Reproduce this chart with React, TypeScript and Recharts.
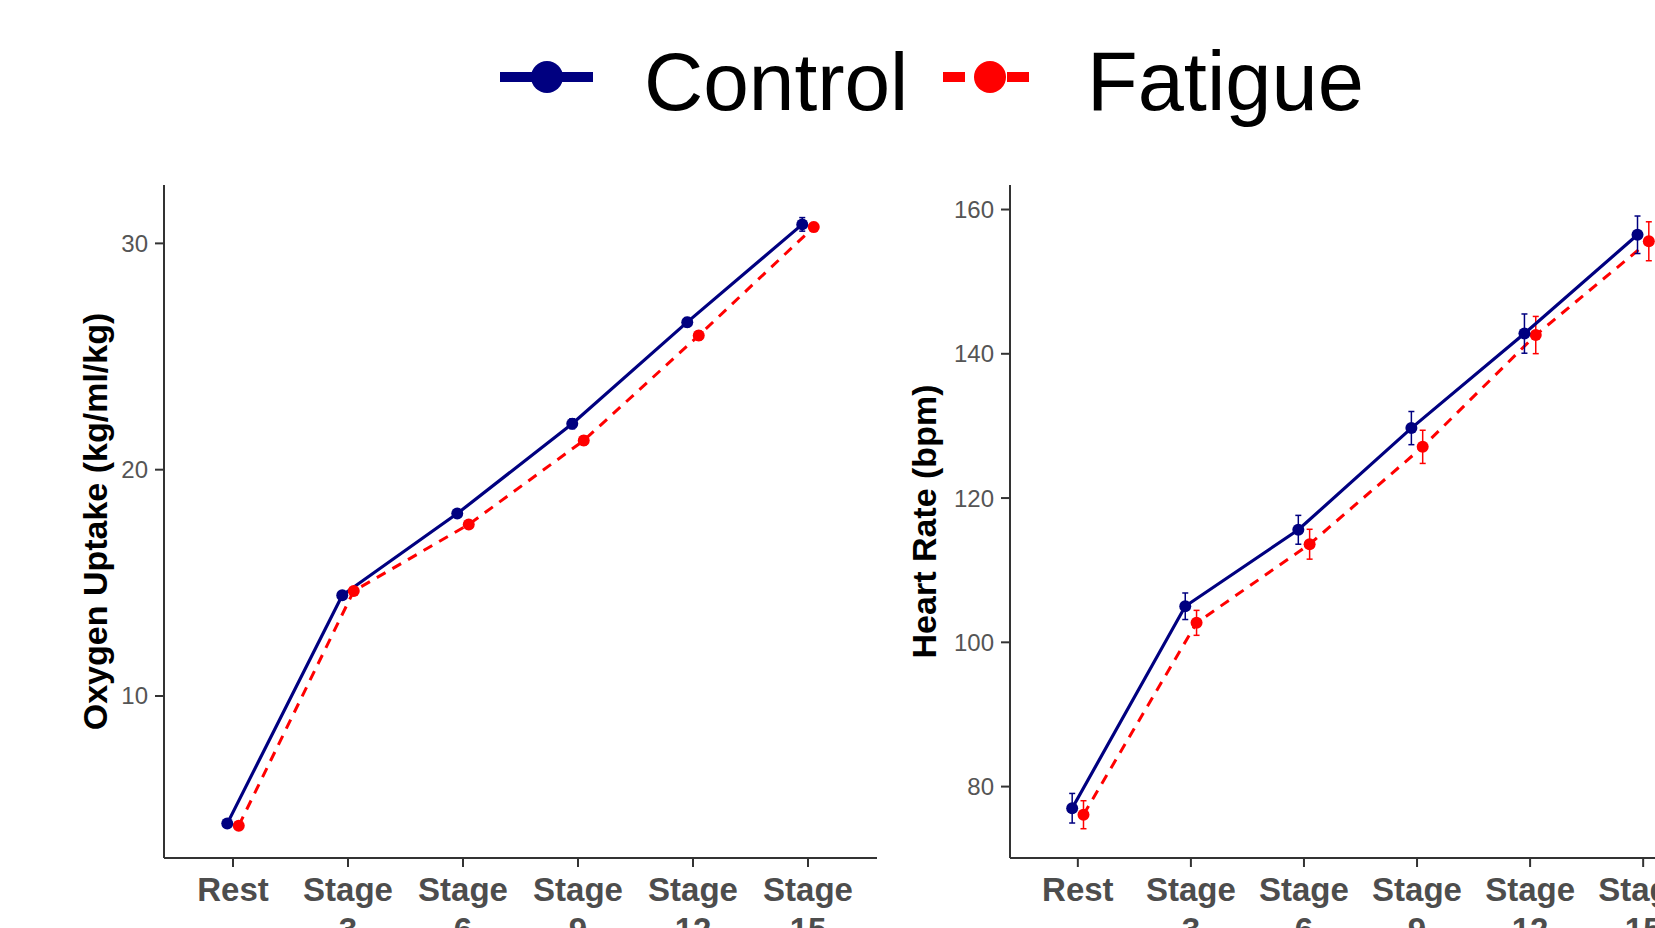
import { ErrorBar, Line, LineChart, XAxis, YAxis } from "recharts";

const stages = ["Rest", "Stage 3", "Stage 6", "Stage 9", "Stage 12", "Stage 15"];

const controlO2 = [4.36, 14.45, 18.06, 22.03, 26.52, 30.84];
const controlO2Se = [0.12, 0.12, 0.15, 0.22, 0.2, 0.3];
const fatigueO2 = [4.27, 14.64, 17.58, 21.29, 25.93, 30.72];
const fatigueO2Se = [0.12, 0.12, 0.15, 0.2, 0.2, 0.2];

const controlHr = [77.0, 105.0, 115.6, 129.7, 142.8, 156.5];
const controlHrSe = [2.05, 1.84, 2.0, 2.3, 2.72, 2.6];
const fatigueHr = [76.1, 102.7, 113.6, 127.1, 142.6, 155.6];
const fatigueHrSe = [1.94, 1.73, 2.07, 2.3, 2.58, 2.7];

const o2Ticks = [10, 20, 30];
const hrTicks = [80, 100, 120, 140, 160];
const stageTicks = [1, 2, 3, 4, 5, 6];

const NAVY = "#000080";
const RED = "#ff0000";
const FONT = "'Liberation Sans', Arial, sans-serif";
const DODGE = 0.05;

const toRows = (means: number[], se: number[], shift: number) =>
  means.map((y, i) => ({ x: i + 1 + shift, y, err: se[i] }));

// two-line stage labels ("Stage" / "3"), second line runs off the bottom like the original
function StageTick({ x, y, payload }: any) {
  const lines = (stages[payload.value - 1] ?? "").split(" ");
  return (
    <text x={x} y={y} textAnchor="middle" fill="#4d4d4d" fontSize={33} fontWeight="bold" fontFamily={FONT}>
      {lines.map((l, i) => (
        <tspan key={i} x={x} dy={i === 0 ? 24 : 40}>{l}</tspan>
      ))}
    </text>
  );
}

const axisStyle = { stroke: "#333", strokeWidth: 2 };

function Panel({ width, yWidth, right, domain, ticks, title, titleX, control, fatigue }: any) {
  return (
    <LineChart width={width} height={928} margin={{ top: 185, right, bottom: 0, left: 0 }}>
      <XAxis
        type="number"
        dataKey="x"
        domain={[0.4, 6.6]}
        ticks={stageTicks}
        interval={0}
        allowDataOverflow
        height={70}
        tickSize={9}
        tickMargin={10}
        axisLine={axisStyle}
        tickLine={axisStyle}
        tick={<StageTick />}
      />
      <YAxis
        type="number"
        domain={domain}
        ticks={ticks}
        allowDataOverflow
        width={yWidth}
        tickSize={9}
        tickMargin={7}
        axisLine={axisStyle}
        tickLine={axisStyle}
        tick={{ fill: "#555", fontSize: 24, fontFamily: FONT }}
        label={(p: any) => {
          const vb = p.viewBox;
          const cx = vb.x + titleX;
          const cy = vb.y + vb.height / 2;
          return (
            <text x={cx} y={cy} transform={`rotate(-90 ${cx} ${cy})`} textAnchor="middle" fontSize={34} fontWeight="bold" fontFamily={FONT} fill="#000">
              {title}
            </text>
          );
        }}
      />
      <Line data={fatigue} dataKey="y" type="linear" stroke={RED} strokeWidth={3} strokeDasharray="10 8" dot={{ r: 6, fill: RED, stroke: "none" }} isAnimationActive={false}>
        <ErrorBar dataKey="err" direction="y" width={3} stroke={RED} strokeWidth={1.5} isAnimationActive={false} />
      </Line>
      <Line data={control} dataKey="y" type="linear" stroke={NAVY} strokeWidth={3.2} dot={{ r: 6, fill: NAVY, stroke: "none" }} isAnimationActive={false}>
        <ErrorBar dataKey="err" direction="y" width={3} stroke={NAVY} strokeWidth={1.5} isAnimationActive={false} />
      </Line>
    </LineChart>
  );
}

function TopLegend() {
  return (
    <svg width={1655} height={160} style={{ position: "absolute", left: 0, top: 0 }}>
      <line x1={500} x2={593} y1={77} y2={77} stroke={NAVY} strokeWidth={10} />
      <circle cx={547} cy={77} r={16} fill={NAVY} />
      <text x={644} y={110} fontSize={82} fontFamily={FONT} fill="#000">Control</text>
      <line x1={943} x2={1036} y1={77} y2={77} stroke={RED} strokeWidth={10} strokeDasharray="22 10" />
      <circle cx={990} cy={77} r={16} fill={RED} />
      <text x={1087} y={110} fontSize={83} fontFamily={FONT} fill="#000">Fatigue</text>
    </svg>
  );
}

export default function App() {
  return (
    <div style={{ position: "absolute", left: 0, top: 0, width: 1655, height: 928, overflow: "hidden", background: "#fff" }}>
      <div style={{ position: "absolute", left: 0, top: 0 }}>
        <Panel
          width={890}
          yWidth={164}
          right={13}
          domain={[2.84, 32.58]}
          ticks={o2Ticks}
          title="Oxygen Uptake (kg/ml/kg)"
          titleX={107}
          control={toRows(controlO2, controlO2Se, -DODGE)}
          fatigue={toRows(fatigueO2, fatigueO2Se, DODGE)}
        />
      </div>
      <div style={{ position: "absolute", left: 890, top: 0 }}>
        <Panel
          width={850}
          yWidth={120}
          right={29}
          domain={[70.1, 163.4]}
          ticks={hrTicks}
          title="Heart Rate (bpm)"
          titleX={46}
          control={toRows(controlHr, controlHrSe, -DODGE)}
          fatigue={toRows(fatigueHr, fatigueHrSe, DODGE)}
        />
      </div>
      <TopLegend />
    </div>
  );
}
